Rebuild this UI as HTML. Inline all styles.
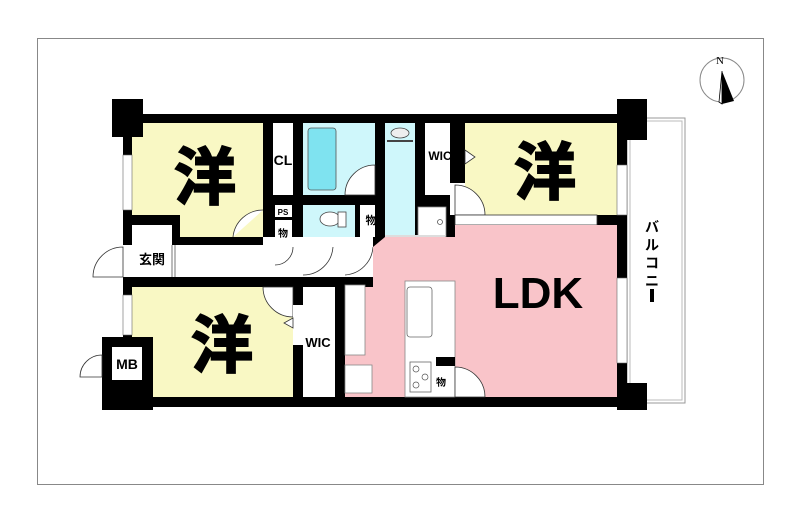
<!DOCTYPE html>
<html><head><meta charset="utf-8"><style>
html,body{margin:0;padding:0;background:#fff;}
svg{display:block;}
text{font-family:"Liberation Sans","Noto Sans CJK JP",sans-serif;font-weight:bold;fill:#000;}
</style></head><body>
<svg width="800" height="522" viewBox="0 0 800 522" xmlns="http://www.w3.org/2000/svg">
<rect x="37.5" y="38.5" width="726" height="446" fill="none" stroke="#888" stroke-width="1"/>
<!-- compass -->
<circle cx="722" cy="80" r="22" fill="none" stroke="#888" stroke-width="1"/>
<text x="716" y="64" font-size="11" style="font-family:'Liberation Serif',serif;font-weight:normal">N</text>
<polygon points="722,71 722,104 734,101" fill="#000"/>
<polygon points="722,71 722,104 719,102" fill="#fff" stroke="#000" stroke-width="0.8"/>
<!-- balcony -->
<rect x="627" y="118" width="58" height="285" fill="#fff" stroke="#999" stroke-width="1"/>
<rect x="630" y="121" width="52" height="279" fill="none" stroke="#bbb" stroke-width="1"/>
<!-- black base of plan -->
<rect x="123" y="114" width="504" height="293" fill="#000"/>
<!-- Room TL yellow -->
<rect x="132" y="123" width="131" height="114" fill="#f9f8c4"/>
<rect x="132" y="215" width="48" height="30" fill="#000"/>
<rect x="132" y="225" width="40" height="20" fill="#fff"/>
<!-- CL -->
<rect x="273" y="123" width="20" height="72" fill="#fff"/>
<!-- bath -->
<rect x="303" y="123" width="72" height="72" fill="#cff7fb"/>
<rect x="308" y="128" width="28" height="62" rx="3" fill="#7fe3f0" stroke="#555" stroke-width="0.8"/>
<path d="M345 195 A30 30 0 0 1 375 165 L375 195 Z" fill="#fff" stroke="#333" stroke-width="0.8"/>
<!-- washroom -->
<rect x="385" y="123" width="30" height="114" fill="#cff7fb"/>
<ellipse cx="400" cy="133" rx="9" ry="5" fill="#eee" stroke="#444" stroke-width="0.8"/>
<rect x="387" y="140" width="26" height="2" fill="#444"/>
<!-- WIC top -->
<rect x="425" y="123" width="25" height="72" fill="#fff"/>
<!-- Room TR yellow -->
<rect x="465" y="123" width="152" height="92" fill="#f9f8c4"/>
<rect x="450" y="183" width="15" height="32" fill="#fff"/>
<path d="M455 215 L455 185 A30 30 0 0 1 485 215 Z" fill="#fff" stroke="#333" stroke-width="0.8"/>
<polygon points="465,150 475,157 465,164" fill="#fff" stroke="#333" stroke-width="0.8"/>
<rect x="455" y="215" width="142" height="10" fill="#fff" stroke="#333" stroke-width="0.8"/>
<!-- PS/物 -->
<rect x="275" y="205" width="17" height="12" fill="#fff"/>
<rect x="275" y="220" width="17" height="20" fill="#fff"/>
<!-- toilet -->
<rect x="303" y="205" width="52" height="32" fill="#cff7fb"/>
<ellipse cx="330" cy="219" rx="10" ry="7" fill="#fff" stroke="#444" stroke-width="0.8"/>
<rect x="338" y="212" width="8" height="15" fill="#fff" stroke="#444" stroke-width="0.8"/>
<rect x="360" y="205" width="15" height="32" fill="#fff"/>
<!-- wash bottom -->
<rect x="418" y="207" width="28" height="30" fill="#fff" stroke="#888" stroke-width="0.8"/>
<circle cx="440" cy="222" r="2.5" fill="none" stroke="#555" stroke-width="0.8"/>
<rect x="385" y="235" width="60" height="3" fill="#ddd"/>
<!-- hallway -->
<rect x="123" y="245" width="250" height="32" fill="#fff"/>
<rect x="263" y="237" width="30" height="10" fill="#fff"/>
<rect x="293" y="237" width="80" height="10" fill="#fff"/>
<line x1="172" y1="245" x2="172" y2="277" stroke="#555" stroke-width="0.8"/>
<line x1="175" y1="245" x2="175" y2="277" stroke="#555" stroke-width="0.8"/>
<path d="M275 265 A18 18 0 0 0 293 247" fill="none" stroke="#333" stroke-width="0.8"/>
<path d="M303 275 A30 30 0 0 0 333 247" fill="none" stroke="#333" stroke-width="0.8"/>
<path d="M345 275 A30 30 0 0 0 373 247" fill="none" stroke="#333" stroke-width="0.8"/>
<path d="M233 237 A30 30 0 0 1 263 210" fill="#fff" stroke="#333" stroke-width="0.8"/>
<!-- entrance door -->
<path d="M93 277 A30 30 0 0 1 123 247 L123 277 Z" fill="#fff" stroke="#333" stroke-width="0.8"/>
<!-- LDK pink -->
<polygon points="455,225 617,225 617,397 345,397 345,287 373,287 373,247 455,247" fill="#f9c4c9"/>
<polygon points="373,247 455,247 455,237 385,237" fill="#f9c4c9"/>
<rect x="345" y="285" width="20" height="70" fill="#fff" stroke="#888" stroke-width="0.8"/>
<rect x="345" y="365" width="27" height="28" fill="#fff" stroke="#888" stroke-width="0.8"/>
<rect x="405" y="281" width="50" height="116" fill="#fff" stroke="#888" stroke-width="0.8"/>
<rect x="407" y="287" width="25" height="50" rx="3" fill="#fff" stroke="#666" stroke-width="0.8"/>
<rect x="410" y="362" width="21" height="30" fill="#fff" stroke="#666" stroke-width="0.8"/>
<circle cx="416" cy="369" r="3" fill="none" stroke="#555" stroke-width="0.7"/>
<circle cx="425" cy="377" r="3" fill="none" stroke="#555" stroke-width="0.7"/>
<circle cx="416" cy="385" r="3" fill="none" stroke="#555" stroke-width="0.7"/>
<rect x="436" y="357" width="19" height="9" fill="#000"/>
<path d="M455 397 L455 367 A30 30 0 0 1 485 397 Z" fill="#fff" stroke="#333" stroke-width="0.8"/>
<!-- bottom left yellow -->
<rect x="132" y="287" width="161" height="110" fill="#f9f8c4"/>
<path d="M263 287 A30 30 0 0 0 293 317 L293 287 Z" fill="#fff" stroke="#333" stroke-width="0.8"/>
<rect x="293" y="305" width="10" height="40" fill="#fff"/>
<polygon points="293,318 284,323 293,328" fill="#fff" stroke="#333" stroke-width="0.8"/>
<rect x="303" y="287" width="32" height="110" fill="#fff"/>
<!-- windows -->
<rect x="123" y="155" width="9" height="55" fill="#fff" stroke="#666" stroke-width="0.6"/>
<rect x="123" y="295" width="9" height="40" fill="#fff" stroke="#666" stroke-width="0.6"/>
<rect x="617" y="165" width="10" height="50" fill="#fff" stroke="#666" stroke-width="0.6"/>
<rect x="617" y="278" width="10" height="85" fill="#fff" stroke="#666" stroke-width="0.6"/>
<!-- columns -->
<rect x="112" y="99" width="31" height="38" fill="#000"/>
<rect x="617" y="99" width="30" height="41" fill="#000"/>
<rect x="617" y="383" width="30" height="27" fill="#000"/>
<rect x="102" y="337" width="51" height="73" fill="#000"/>
<rect x="112" y="347" width="30" height="33" fill="#fff"/>
<path d="M80 377 A22 22 0 0 1 102 355 L102 377 Z" fill="#fff" stroke="#333" stroke-width="0.8"/>
<!-- labels -->
<text x="205" y="199" font-size="62" text-anchor="middle" stroke="#000" stroke-width="2">洋</text>
<text x="545" y="194" font-size="62" text-anchor="middle" stroke="#000" stroke-width="2">洋</text>
<text x="222" y="367" font-size="62" text-anchor="middle" stroke="#000" stroke-width="2">洋</text>
<text x="538" y="308" font-size="44" text-anchor="middle">LDK</text>
<text x="283" y="165" font-size="14" text-anchor="middle">CL</text>
<text x="440" y="160" font-size="12" text-anchor="middle">WIC</text>
<text x="318" y="347" font-size="13" text-anchor="middle">WIC</text>
<text x="283" y="215" font-size="8" text-anchor="middle">PS</text>
<text x="283" y="237" font-size="10" text-anchor="middle">物</text>
<text x="371" y="224" font-size="11" text-anchor="middle">物</text>
<text x="441" y="386" font-size="10" text-anchor="middle">物</text>
<text x="152" y="264" font-size="13" text-anchor="middle">玄関</text>
<text x="127" y="369" font-size="14" text-anchor="middle">MB</text>
<text x="652" y="232" font-size="14" text-anchor="middle">バ</text>
<text x="652" y="250" font-size="14" text-anchor="middle">ル</text>
<text x="652" y="268" font-size="14" text-anchor="middle">コ</text>
<text x="652" y="286" font-size="14" text-anchor="middle">ニ</text>
<rect x="650" y="289" width="4" height="13" fill="#000"/>
</svg>
</body></html>
